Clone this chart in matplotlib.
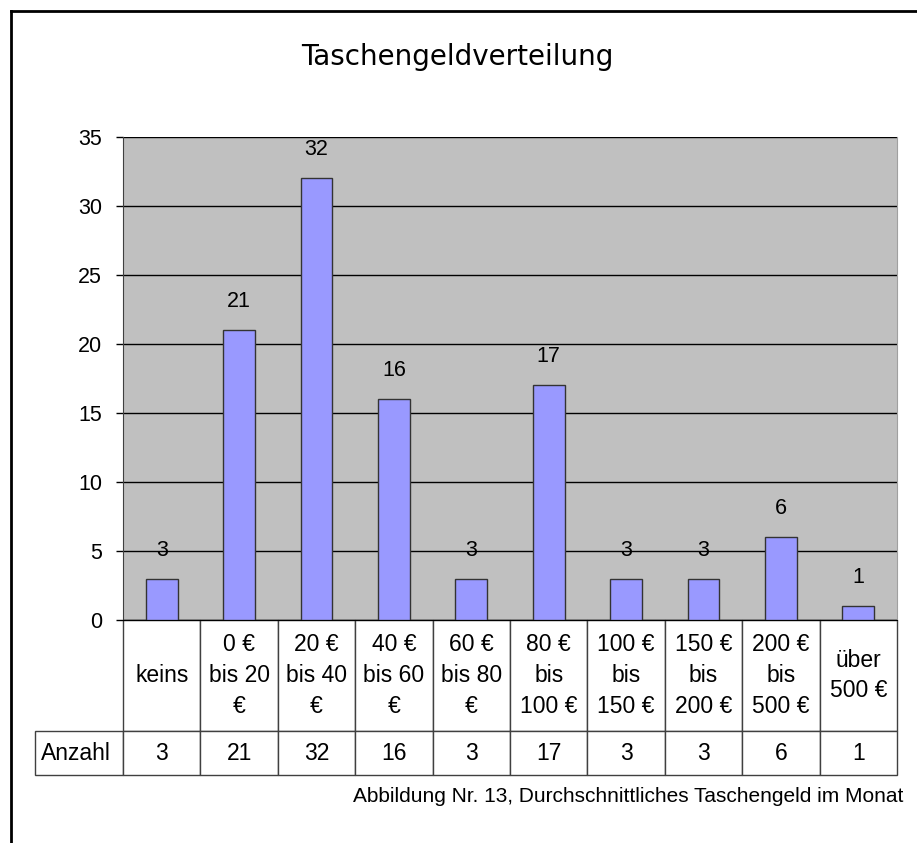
import matplotlib.pyplot as plt
from matplotlib.lines import Line2D

plt.rcParams['font.family'] = ['Liberation Sans', 'DejaVu Sans']

categories = ['keins', '0 €\nbis 20\n€', '20 €\nbis 40\n€', '40 €\nbis 60\n€', '60 €\nbis 80\n€',
              '80 €\nbis\n100 €', '100 €\nbis\n150 €', '150 €\nbis\n200 €', '200 €\nbis\n500 €',
              'über\n500 €']
anzahl = [3, 21, 32, 16, 3, 17, 3, 3, 6, 1]
row_label = 'Anzahl'
title = 'Taschengeldverteilung'
caption = 'Abbildung Nr. 13, Durchschnittliches Taschengeld im Monat'

W, H = 917, 843
ax_w, ax_h = 897 - 123, 620 - 137
fig = plt.figure(figsize=(W / 100, H / 100), dpi=100)
ax = fig.add_axes([123 / W, 1 - 620 / H, ax_w / W, ax_h / H])

x = list(range(len(anzahl)))
ax.set_facecolor('#c0c0c0')
bars = ax.bar(x, anzahl, width=0.41, color='#9999ff', edgecolor='#333333', linewidth=1, zorder=3)
ax.bar_label(bars, padding=13, fontsize=15.5)

ax.set_xlim(-0.5, len(anzahl) - 0.5)
ax.set_ylim(0, 35)
ax.set_yticks(range(0, 36, 5))
ax.set_xticks([])
ax.tick_params(axis='y', length=5, width=1, pad=10, labelsize=15.5)
ax.grid(axis='y', color='black', linewidth=1, zorder=1)
ax.set_axisbelow(True)
ax.spines['top'].set_visible(False)
ax.spines['right'].set_color('#a0a0a0')
ax.spines['left'].set_color('#404040')
ax.spines['bottom'].set_color('black')

# Datentabelle unter dem Diagramm, Zellgroessen in Achsenkoordinaten
tab = ax.table(cellText=[[str(v) for v in anzahl]], rowLabels=[row_label], colLabels=categories,
               cellLoc='center', rowLoc='left',
               bbox=[0, -(111 + 44) / ax_h, 1, (111 + 44) / ax_h])
tab._autoColumns.clear()  # feste Breite fuer die Zeilenbeschriftung
tab.auto_set_font_size(False)
tab.set_fontsize(16.5)
for (r, c), cell in tab.get_celld().items():
    cell.set_edgecolor('#404040')
    cell.set_linewidth(1)
    cell.set_width(88 / ax_w if c == -1 else 1 / len(anzahl))
    cell.set_height((111 if r == 0 else 44) / ax_h)
    cell.get_text().set_linespacing(1.42)
    if c == -1:
        cell.PAD = 0.07

# Rahmen
fig.add_artist(Line2D([11 / W, 1], [1 - 11 / H, 1 - 11 / H], color='black', linewidth=2))
fig.add_artist(Line2D([11 / W, 11 / W], [0, 1 - 11 / H], color='black', linewidth=2))

fig.text(457 / W, 1 - 57 / H, title, ha='center', va='center', fontsize=20,
         family=['DejaVu Sans'])
fig.text(903 / W, 1 - 797 / H, caption, ha='right', va='center', fontsize=15)

fig.savefig('out.png', dpi=100)
